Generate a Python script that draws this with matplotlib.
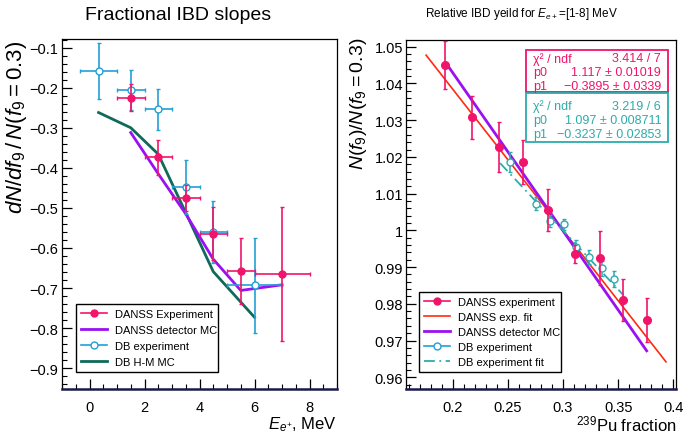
import matplotlib.pyplot as plt
from matplotlib.lines import Line2D
from matplotlib.patches import Rectangle
from matplotlib.ticker import MultipleLocator

plt.rcParams['font.family'] = ['Liberation Sans', 'DejaVu Sans']
plt.rcParams['mathtext.fontset'] = 'custom'
plt.rcParams['mathtext.rm'] = 'Liberation Sans'
plt.rcParams['mathtext.it'] = 'Liberation Sans:italic'
plt.rcParams['mathtext.bf'] = 'Liberation Sans:bold'

# --- left panel: fractional IBD slopes ---
danss_e = [1.5, 2.5, 3.5, 4.5, 5.5, 7.0]
danss_e_err = [0.5, 0.5, 0.5, 0.5, 0.5, 1.0]
danss_slope = [-0.225, -0.374, -0.475, -0.564, -0.658, -0.665]
danss_slope_err = [0.034, 0.044, 0.033, 0.065, 0.083, 0.166]

danss_mc_e = [1.5, 2.5, 3.5, 4.5, 5.5, 7.0]
danss_mc_slope = [-0.312, -0.415, -0.515, -0.628, -0.706, -0.692]

db_e = [0.33, 1.5, 2.5, 3.5, 4.5, 6.0]
db_e_err = [0.67, 0.5, 0.5, 0.5, 0.5, 1.0]
db_slope = [-0.158, -0.206, -0.254, -0.448, -0.560, -0.693]
db_slope_err = [0.070, 0.050, 0.051, 0.067, 0.078, 0.118]

db_hm_e = [0.33, 1.5, 2.5, 3.5, 4.5, 6.0]
db_hm_slope = [-0.262, -0.300, -0.366, -0.512, -0.659, -0.773]

# --- right panel: relative IBD yield vs Pu239 fraction ---
danss_pu = [0.193, 0.217, 0.2417, 0.2637, 0.2867, 0.3109, 0.3335, 0.3547, 0.3764]
danss_yield = [1.0450, 1.0308, 1.0226, 1.0185, 1.0055, 0.9936, 0.9925, 0.9810, 0.9756]
danss_yield_err = [0.0066, 0.0059, 0.0068, 0.0060, 0.0057, 0.0025, 0.0073, 0.0057, 0.0060]

fit_pu = [0.1758, 0.3934]
fit_yield = [1.0477, 0.9642]

mc_pu = [0.1951, 0.3759]
mc_yield = [1.0450, 0.9672]

db_pu = [0.2519, 0.2752, 0.2882, 0.3009, 0.3118, 0.3238, 0.3351, 0.3462]
db_yield = [1.0187, 1.0072, 1.0026, 1.0017, 0.9954, 0.9927, 0.9897, 0.9868]
db_yield_err = [0.0027, 0.0018, 0.0017, 0.0015, 0.0020, 0.0020, 0.0020, 0.0021]

db_fit_pu = [0.2429, 0.3547]
db_fit_yield = [1.0183, 0.9824]

stats_danss = [('χ² / ndf', '3.414 / 7'), ('p0', '1.117 ± 0.01019'), ('p1', '−0.3895 ± 0.0339')]
stats_db = [('χ² / ndf', '3.219 / 6'), ('p0', '1.097 ± 0.008711'), ('p1', '−0.3237 ± 0.02853')]

PINK = '#f0146a'
PURPLE = '#9a10f0'
BLUE = '#22a0d4'
DKTEAL = '#0f6a5c'
RED = '#ff2a10'
TEAL = '#2cacac'

fig = plt.figure(figsize=(6.88, 4.35), dpi=100)
ax1 = fig.add_axes([62 / 688, 45 / 435, 275 / 688, 350 / 435])
ax2 = fig.add_axes([405.7 / 688, 45 / 435, 270.3 / 688, 349.3 / 435])


def style_axes(ax):
    ax.tick_params(which='both', direction='in', top=False, right=False, labelsize=10.5)
    ax.tick_params(which='major', length=7, width=0.9)
    ax.tick_params(which='minor', length=3.5, width=0.8)
    ax.tick_params(axis='x', pad=8)
    ax.tick_params(axis='y', pad=3)
    for s in ax.spines.values():
        s.set_linewidth(0.9)
    ax.spines['bottom'].set_linewidth(1.8)
    ax.spines['bottom'].set_color('#1a1a4a')


# left panel
ax1.plot(db_hm_e, db_hm_slope, color=DKTEAL, lw=2, zorder=2)
ax1.plot(danss_mc_e, danss_mc_slope, color=PURPLE, lw=2, zorder=2)
ax1.errorbar(db_e, db_slope, xerr=db_e_err, yerr=db_slope_err, fmt='o', color=BLUE,
             mfc='white', mec=BLUE, ms=5, lw=1.2, capsize=1.5, zorder=3)
ax1.errorbar(danss_e, danss_slope, xerr=danss_e_err, yerr=danss_slope_err, fmt='o', color=PINK,
             ms=5, lw=1.2, capsize=1.5, zorder=4)

ax1.set_xlim(-1, 9)
ax1.set_ylim(-0.952, -0.0785)
ax1.xaxis.set_major_locator(MultipleLocator(2))
ax1.xaxis.set_minor_locator(MultipleLocator(0.5))
ax1.yaxis.set_major_locator(MultipleLocator(0.1))
ax1.yaxis.set_minor_locator(MultipleLocator(0.02))
style_axes(ax1)

ax1.text(-0.165, 0.998, r'$dN/df_{9}\,/\,N(f_{9}=0.3)$', transform=ax1.transAxes,
         rotation=90, ha='center', va='top', fontsize=16)
ax1.text(1.0, -0.1, r'$E_{e^{+}}$, MeV', transform=ax1.transAxes,
         ha='right', va='center', fontsize=12)

h1 = [Line2D([], [], color=PINK, marker='o', ms=5, lw=1.2),
      Line2D([], [], color=PURPLE, lw=2),
      Line2D([], [], color=BLUE, marker='o', mfc='white', ms=5, lw=1.2),
      Line2D([], [], color=DKTEAL, lw=2)]
l1 = ['DANSS Experiment', 'DANSS detector MC', 'DB experiment', 'DB H-M MC']
leg1 = ax1.legend(h1, l1, loc='lower left', bbox_to_anchor=(0.051, 0.049, 0.516, 0.2),
                  mode='expand', fontsize=8, frameon=True, fancybox=False,
                  edgecolor='black', framealpha=1, handlelength=2.3, labelspacing=0.55,
                  borderpad=0.45, borderaxespad=0)
leg1.get_frame().set_linewidth(1)

fig.text(178 / 688, 1 - 16 / 435, 'Fractional IBD slopes', ha='center', va='center', fontsize=14)

# right panel
ax2.plot(fit_pu, fit_yield, color=RED, lw=1.2, zorder=2)
ax2.plot(mc_pu, mc_yield, color=PURPLE, lw=2, zorder=2)
ax2.plot(db_fit_pu, db_fit_yield, color=TEAL, lw=1.3, ls=(0, (6, 2.5, 1, 2.5)), zorder=2)
ax2.errorbar(db_pu, db_yield, yerr=db_yield_err, fmt='o', color=TEAL, mfc='white', mec=TEAL,
             ms=5, lw=1.1, capsize=1.5, zorder=3)
ax2.errorbar(danss_pu, danss_yield, yerr=danss_yield_err, fmt='o', color=PINK,
             ms=5.5, lw=1.2, capsize=1.5, zorder=4)

ax2.set_xlim(0.1573, 0.4025)
ax2.set_ylim(0.9568, 1.0519)
ax2.xaxis.set_major_locator(MultipleLocator(0.05))
ax2.xaxis.set_minor_locator(MultipleLocator(0.01))
ax2.yaxis.set_major_locator(MultipleLocator(0.01))
ax2.yaxis.set_minor_locator(MultipleLocator(0.002))
ax2.yaxis.set_major_formatter(plt.FuncFormatter(lambda v, p: ('%g' % round(v, 3))))
ax2.xaxis.set_major_formatter(plt.FuncFormatter(lambda v, p: ('%g' % round(v, 3))))
style_axes(ax2)
ax2.tick_params(axis='y', pad=2)

ax2.text(-0.176, 1.01, r'$N(f_{9})/N(f_{9}=0.3)$', transform=ax2.transAxes,
         rotation=90, ha='center', va='top', fontsize=14)
ax2.text(1.0, -0.1, r'$^{239}$Pu fraction', transform=ax2.transAxes,
         ha='right', va='center', fontsize=12)


def stat_box(ax, rows, color, y0, y1, ys):
    ax.add_patch(Rectangle((0.445, y0), 0.5265, y1 - y0, transform=ax.transAxes,
                           fill=True, facecolor='white', edgecolor=color, lw=1.3, zorder=6))
    for (k, v), yy in zip(rows, ys):
        ax.text(0.472, yy, k, transform=ax.transAxes, color=color, fontsize=9,
                ha='left', va='center', zorder=7)
        ax.text(0.945, yy, v, transform=ax.transAxes, color=color, fontsize=9,
                ha='right', va='center', zorder=7)


stat_box(ax2, stats_danss, PINK, 0.849, 0.9705, [0.947, 0.908, 0.867])
stat_box(ax2, stats_db, TEAL, 0.708, 0.8466, [0.811, 0.770, 0.730])

h2 = [Line2D([], [], color=PINK, marker='o', ms=5, lw=1.2),
      Line2D([], [], color=RED, lw=1.2),
      Line2D([], [], color=PURPLE, lw=2),
      Line2D([], [], color=BLUE, marker='o', mfc='white', ms=5, lw=1.2),
      Line2D([], [], color=TEAL, lw=1.3, ls=(0, (6, 2.5, 1, 2.5)))]
l2 = ['DANSS experiment', 'DANSS exp. fit', 'DANSS detector MC', 'DB experiment', 'DB experiment fit']
leg2 = ax2.legend(h2, l2, loc='lower left', bbox_to_anchor=(0.049, 0.048, 0.524, 0.24),
                  mode='expand', fontsize=8, frameon=True, fancybox=False,
                  edgecolor='black', framealpha=1, handlelength=2.3, labelspacing=0.45,
                  borderpad=0.45, borderaxespad=0)
leg2.get_frame().set_linewidth(1)

fig.text(522 / 688, 1 - 14 / 435, r'Relative IBD yeild for $E_{e+}$=[1-8] MeV',
         ha='center', va='center', fontsize=8.5)

fig.savefig('out.png', dpi=100)
